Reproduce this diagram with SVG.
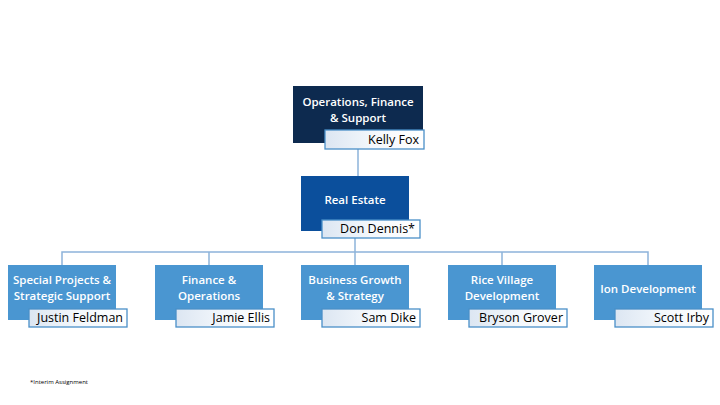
<svg xmlns="http://www.w3.org/2000/svg" width="720" height="405" viewBox="0 0 720 405">
<defs>
<linearGradient id="ng" x1="0" y1="0" x2="1" y2="0"><stop offset="0" stop-color="#DCE6F2"/><stop offset="0.5" stop-color="#F4F8FC"/><stop offset="1" stop-color="#FFFFFF"/></linearGradient>
</defs>
<style>
text{font-family:"Open Sans","Liberation Sans",sans-serif;font-size:11.5px}
.t{fill:#fff;text-anchor:middle;font-weight:600}
.n{fill:#000;text-anchor:end;font-size:12.5px}
.nb{fill:url(#ng);stroke:#4A90C8;stroke-width:1.3}
.c{stroke:#8DB3DA;stroke-width:1.5;fill:none}
</style>
<rect width="720" height="405" fill="#fff"/>
<g id="connectors">
<line class="c" x1="358" y1="149" x2="358" y2="176"/>
<line class="c" x1="355" y1="238" x2="355" y2="252"/>
<polyline class="c" points="62,265 62,252 648,252 648,265"/>
<line class="c" x1="209" y1="252" x2="209" y2="265"/>
<line class="c" x1="355" y1="252" x2="355" y2="265"/>
<line class="c" x1="502" y1="252" x2="502" y2="265"/>
</g>
<g id="ofs">
<rect x="293" y="86" width="130" height="57" fill="#0D2A4F"/>
<text class="t" x="358" y="106">Operations, Finance</text>
<text class="t" x="358" y="122">&amp; Support</text>
<rect class="nb" x="325" y="130" width="99" height="19"/>
<text class="n" x="419" y="144">Kelly Fox</text>
</g>
<g id="re">
<rect x="301" y="176" width="108" height="55" fill="#0B4F9C"/>
<text class="t" x="355" y="204">Real Estate</text>
<rect class="nb" x="322" y="220" width="98" height="18"/>
<text class="n" x="415" y="233">Don Dennis*</text>
</g>
<g id="sp">
<rect x="8" y="265" width="108" height="55" fill="#4A96D1"/>
<text class="t" x="62" y="284">Special Projects &amp;</text>
<text class="t" x="62" y="300">Strategic Support</text>
<rect class="nb" x="29" y="309" width="98" height="18"/>
<text class="n" x="123" y="322">Justin Feldman</text>
</g>
<g id="fo">
<rect x="155" y="265" width="108" height="55" fill="#4A96D1"/>
<text class="t" x="209" y="284">Finance &amp;</text>
<text class="t" x="209" y="300">Operations</text>
<rect class="nb" x="176" y="309" width="98" height="18"/>
<text class="n" x="270" y="322">Jamie Ellis</text>
</g>
<g id="bg">
<rect x="301" y="265" width="108" height="55" fill="#4A96D1"/>
<text class="t" x="355" y="284">Business Growth</text>
<text class="t" x="355" y="300">&amp; Strategy</text>
<rect class="nb" x="322" y="309" width="98" height="18"/>
<text class="n" x="416" y="322">Sam Dike</text>
</g>
<g id="rv">
<rect x="448" y="265" width="108" height="55" fill="#4A96D1"/>
<text class="t" x="502" y="284">Rice Village</text>
<text class="t" x="502" y="300">Development</text>
<rect class="nb" x="469" y="309" width="98" height="18"/>
<text class="n" x="563" y="322">Bryson Grover</text>
</g>
<g id="ion">
<rect x="594" y="265" width="108" height="55" fill="#4A96D1"/>
<text class="t" x="648" y="293">Ion Development</text>
<rect class="nb" x="615" y="309" width="98" height="18"/>
<text class="n" x="709" y="322">Scott Irby</text>
</g>
<text x="30" y="384" style="font-size:6px">*Interim Assignment</text>
</svg>
